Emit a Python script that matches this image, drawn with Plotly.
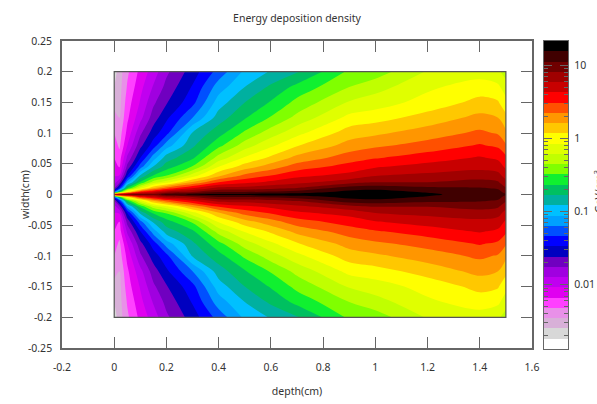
import numpy as np
import plotly.graph_objects as go

W, H = 597, 404

# Depth (cm) of each column of readings and half-width (cm) of each reading
depths = [0, 0.02, 0.05, 0.1, 0.15, 0.2, 0.3, 0.4, 0.5, 0.6, 0.7, 0.9, 1.0, 1.2, 1.4, 1.47, 1.5]
half_widths = [0.2, 0.175, 0.15, 0.125, 0.1, 0.08, 0.06, 0.045, 0.03, 0.02, 0.01, 0.004, 0]

# Readings from the picture, as a position on the colour key
# (0 = top band of the key, fractional = between band centres); one list per depth
d000 = [28, 27.5, 27, 26, 25.5, 25, 24.5, 24, 23.5, 23, 21.5, 18, 3]
d002 = [27, 26.9, 26.8, 26.5, 26, 25.7, 25, 24.6, 23.4, 21.7, 18.8, 13.3, 2]
d005 = [25.7, 25.4, 25, 24.7, 24.2, 23.5, 22.3, 21.2, 19.5, 17, 13.3, 8.5, 2]
d010 = [24.2, 23.8, 23.4, 22.8, 21.7, 20.8, 19.5, 18, 15.2, 13.3, 9.9, 5, 2]
d015 = [23, 22.4, 21.7, 21, 20, 19, 17, 15.4, 13.3, 11, 7.4, 4, 2]
d020 = [21.7, 21.2, 20.6, 19.7, 18.8, 17, 15, 14, 12.4, 9.9, 6, 3, 0.9]
d030 = [20, 19.4, 18.8, 17.5, 15.4, 14.7, 13.7, 12.4, 9.9, 7.4, 4.4, 2.5, 0.3]
d040 = [18.1, 17, 16, 15, 13.9, 12.8, 11.1, 9.5, 7.6, 5.5, 3.1, 1.5, 0.3]
d050 = [16.3, 15.5, 14.5, 13.6, 12.3, 11, 9.4, 8, 6.1, 4.8, 3, 1.5, 0.2]
d060 = [15.4, 14.3, 13.4, 12.4, 11, 9.7, 8.3, 7, 5.4, 4.3, 2.7, 1.3, 0]
d070 = [14.6, 13.2, 12.2, 11.2, 9.8, 8.6, 7.2, 6, 4.7, 3.8, 2.4, 1, 0]
d090 = [12.3, 11.5, 10.4, 9.2, 8, 7.1, 6, 5.1, 4.1, 2.9, 0.9, 0.2, 0]
d100 = [12, 10.9, 10, 8.9, 7.7, 6.7, 5.6, 4.6, 3.5, 2.5, 0.75, 0.1, 0]
d120 = [10.4, 9.7, 9.1, 8.1, 7, 6.1, 5, 4.1, 3.2, 2.5, 1.2, 0.6, 0.3]
d140 = [10, 9, 8.2, 7.2, 6.3, 5.4, 4.4, 3.8, 2.9, 2.2, 1.4, 1.1, 1]
d147 = [10.3, 9.3, 8.4, 7.5, 6.6, 5.7, 4.7, 4, 3.1, 2.4, 1.6, 1.2, 1]
d150 = [11, 10, 9.2, 8.2, 7.3, 6.4, 5.3, 4.7, 3.9, 3.2, 2.4, 1.8, 1.5]
readings = [d000, d002, d005, d010, d015, d020, d030, d040, d050, d060, d070, d090, d100, d120, d140, d147, d150]

# Colour key, top band to bottom band
key_colors = ["#000000", "#400000", "#700000", "#a00000", "#c80000", "#ff0000", "#ff5000", "#ff9600",
              "#ffc800", "#ffff00", "#e0ff00", "#c0ff00", "#80ff00", "#10f030", "#00c060", "#00b0a0",
              "#00c0ff", "#00a0ff", "#0050ff", "#0000ff", "#0000c0", "#7000c0", "#a000e0", "#c000f0",
              "#e000f0", "#ff40ff", "#e890e8", "#d8b0d8", "#d8d8d8", "#ffffff"]

x_ticks = [-0.2, 0, 0.2, 0.4, 0.6, 0.8, 1, 1.2, 1.4, 1.6]
x_labels = ["-0.2", "0", "0.2", "0.4", "0.6", "0.8", "1", "1.2", "1.4", "1.6"]
y_ticks = [-0.25, -0.2, -0.15, -0.1, -0.05, 0, 0.05, 0.1, 0.15, 0.2, 0.25]
y_labels = ["-0.25", "-0.2", "-0.15", "-0.1", "-0.05", "0", "0.05", "0.1", "0.15", "0.2", "0.25"]
key_major = [0.01, 0.1, 1, 10]
key_labels = ["0.01", "0.1", "1", "10"]
key_minor = [0.002, 0.003, 0.004, 0.005, 0.006, 0.007, 0.008, 0.009,
             0.02, 0.03, 0.04, 0.05, 0.06, 0.07, 0.08, 0.09,
             0.2, 0.3, 0.4, 0.5, 0.6, 0.7, 0.8, 0.9,
             2, 3, 4, 5, 6, 7, 8, 9]

# One key band spans 0.1405 decades; band 9 (yellow) is centred on a density of 1
step = 0.1405
to_log = lambda pos: (9 - np.asarray(pos, dtype=float)) * step

n = len(key_colors)
zmin, zmax = float(to_log(n - 0.5)), float(to_log(-0.5))
scale = []
for i, c in enumerate(reversed(key_colors)):
    scale += [[i / n, c], [(i + 1) / n, c]]

upper = to_log(np.array(readings)).T          # rows from y=+0.2 to y=0
lower = upper[-2::-1]                         # picture is symmetric about y=0
z = np.vstack([upper, lower])[::-1]
y = (list(half_widths) + [-v for v in half_widths[-2::-1]])[::-1]

AX = "#666666"
TXT = "#333333"
FONT = "Noto Sans"

fig = go.Figure()
fig.add_trace(go.Contour(
    x=depths, y=y, z=z, colorscale=scale, zmin=zmin, zmax=zmax, showscale=False,
    autocontour=False,
    contours=dict(start=zmin + step, end=zmax - step, size=step, coloring="fill", showlines=False),
    line=dict(width=0), hoverinfo="skip",
))
fig.add_trace(go.Heatmap(
    x=[0], y=[float(to_log(i)) for i in range(n)], z=[[float(to_log(i))] for i in range(n)],
    colorscale=scale, zmin=zmin, zmax=zmax, showscale=False, xaxis="x2", yaxis="y2", hoverinfo="skip",
))

axis_common = dict(automargin=False, showgrid=False, zeroline=False, showline=True, linecolor=AX, linewidth=1.5,
                   mirror="ticks", ticks="inside", ticklen=11, tickcolor=AX, tickwidth=1.2,
                   tickfont=dict(family=FONT, size=10.5, color=TXT))
fig.update_layout(
    width=W, height=H, autosize=False, margin=dict(l=0, r=0, t=0, b=0),
    paper_bgcolor="white", plot_bgcolor="white", showlegend=False,
    font=dict(family=FONT, color=TXT),
    title=dict(text="Energy deposition density", x=297 / W, xanchor="center", y=1 - 18 / H, yanchor="middle",
               automargin=False, font=dict(family=FONT, size=10.5, color=TXT)),
    xaxis=dict(domain=[62 / W, 532 / W], range=[-0.2, 1.6], tickvals=x_ticks, ticktext=x_labels,
               ticklabelstandoff=9,
               title=dict(text="depth(cm)", standoff=14, font=dict(family=FONT, size=10.5, color=TXT)),
               **axis_common),
    yaxis=dict(domain=[(H - 348) / H, (H - 41) / H], range=[-0.25, 0.25], tickvals=y_ticks, ticktext=y_labels,
               ticklabelstandoff=6,
               **axis_common),
    xaxis2=dict(automargin=False, domain=[544 / W, 568 / W], range=[-0.5, 0.5], anchor="y2", showticklabels=False, ticks="",
                showgrid=False, zeroline=False, showline=True, linecolor=AX, linewidth=1.2, mirror=True),
    yaxis2=dict(automargin=False, domain=[(H - 349) / H, (H - 41) / H], range=[zmin, zmax], anchor="x2", side="right",
                tickvals=[float(np.log10(v)) for v in key_major], ticktext=key_labels, ticklabelstandoff=3,
                ticks="inside", ticklen=8, tickcolor=AX, tickwidth=1, mirror="ticks",
                showgrid=False, zeroline=False, showline=True, linecolor=AX, linewidth=1.2,
                tickfont=dict(family=FONT, size=10.5, color=TXT),
                minor=dict(tickvals=[float(np.log10(v)) for v in key_minor], ticks="inside", ticklen=4,
                           tickcolor=AX, tickwidth=1)),
    shapes=[dict(type="rect", xref="x", yref="y", x0=0, x1=1.5, y0=-0.2, y1=0.2,
                 line=dict(color="#555555", width=1.2))],
    annotations=[
        dict(text="width(cm)", xref="paper", yref="paper", x=25 / W, y=1 - 195 / H,
             textangle=-90, showarrow=False, xanchor="center", yanchor="middle",
             font=dict(family=FONT, size=10.5, color=TXT)),
        dict(text="GeV/cm<sup>3</sup>", xref="paper", yref="paper", x=598 / W, y=1 - 192 / H,
             textangle=-90, showarrow=False, xanchor="center", yanchor="middle",
             font=dict(family=FONT, size=10.5, color=TXT)),
    ],
)
fig.write_html("out.html", config=dict(displayModeBar=False), post_script="document.body.style.margin='0';")
